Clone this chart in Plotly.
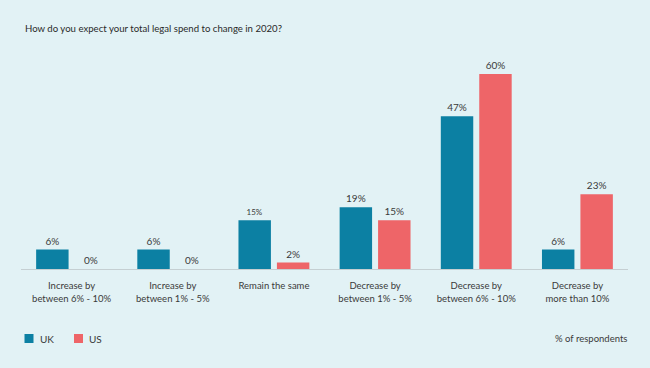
import plotly.graph_objects as go

categories = ["Increase by<br>between 6% - 10%", "Increase by<br>between 1% - 5%", "Remain the same",
              "Decrease by<br>between 1% - 5%", "Decrease by<br>between 6% - 10%", "Decrease by<br>more than 10%"]
uk_values = [6, 6, 15, 19, 47, 6]
us_values = [0, 0, 2, 15, 60, 23]
uk_label_sizes = [10, 10, 8, 10, 10, 10]
series_names = ["UK", "US"]

BG = "#E2F2F5"
UK_COLOR = "#0C80A3"
US_COLOR = "#EE6568"
TEXT = "#3a3a3a"
FONT = "Lato"

fig = go.Figure()
fig.add_trace(go.Bar(
    name=series_names[0], x=categories, y=uk_values,
    marker=dict(color=UK_COLOR, line=dict(width=0)),
    text=[f"{v}%" for v in uk_values], textposition="outside",
    textfont=dict(size=uk_label_sizes, color=TEXT, family=FONT),
    cliponaxis=False, showlegend=False,
))
fig.add_trace(go.Bar(
    name=series_names[1], x=categories, y=us_values,
    marker=dict(color=US_COLOR, line=dict(width=0)),
    text=[f"{v}%" for v in us_values], textposition="outside",
    textfont=dict(size=10, color=TEXT, family=FONT),
    cliponaxis=False, showlegend=False,
))

PLOT_H = 219  # px
def py(pix_y):
    # convert page pixel y to paper coordinate (plot area 50..269)
    return (269 - pix_y) / PLOT_H

def px(pix_x):
    return (pix_x - 21) / 607

fig.update_layout(
    width=650, height=368,
    paper_bgcolor=BG, plot_bgcolor=BG,
    margin=dict(l=21, r=22, t=50, b=99),
    barmode="group", bargap=0.24, bargroupgap=0.156,
    font=dict(family=FONT, color=TEXT, size=10),
    title=dict(text="How do you expect your total legal spend to change in 2020?",
               x=25 / 650, xanchor="left", y=1 - 29 / 368, yanchor="middle",
               font=dict(size=9.6, color="#2a2a2a", family=FONT)),
    showlegend=False,
)
fig.update_xaxes(showline=True, linecolor="#c5cfd2", linewidth=1, ticks="",
                 ticklabelstandoff=8,
                 tickfont=dict(size=9.5, color=TEXT, family=FONT), showgrid=False)
fig.update_yaxes(range=[0, 67.4], visible=False, showgrid=False, zeroline=False)

# legend swatches + labels
legend_colors = [UK_COLOR, US_COLOR]
legend_x = [24.5, 74]
for name, col, lx in zip(series_names, legend_colors, legend_x):
    fig.add_shape(type="rect", xref="paper", yref="paper",
                  x0=px(lx), x1=px(lx + 9), y0=py(343), y1=py(334),
                  fillcolor=col, line=dict(width=0))
    fig.add_annotation(text=name, xref="paper", yref="paper", x=px(lx + 13), y=py(338.5),
                       xanchor="left", yanchor="middle", showarrow=False,
                       font=dict(size=10, color=TEXT, family=FONT))

fig.add_annotation(text="% of respondents", xref="paper", yref="paper", x=px(629), y=py(338.5),
                   xanchor="right", yanchor="middle", showarrow=False,
                   font=dict(size=9.5, color=TEXT, family=FONT))

fig.write_html("out.html", config={"displayModeBar": False},
               post_script="document.body.style.margin='0';")
